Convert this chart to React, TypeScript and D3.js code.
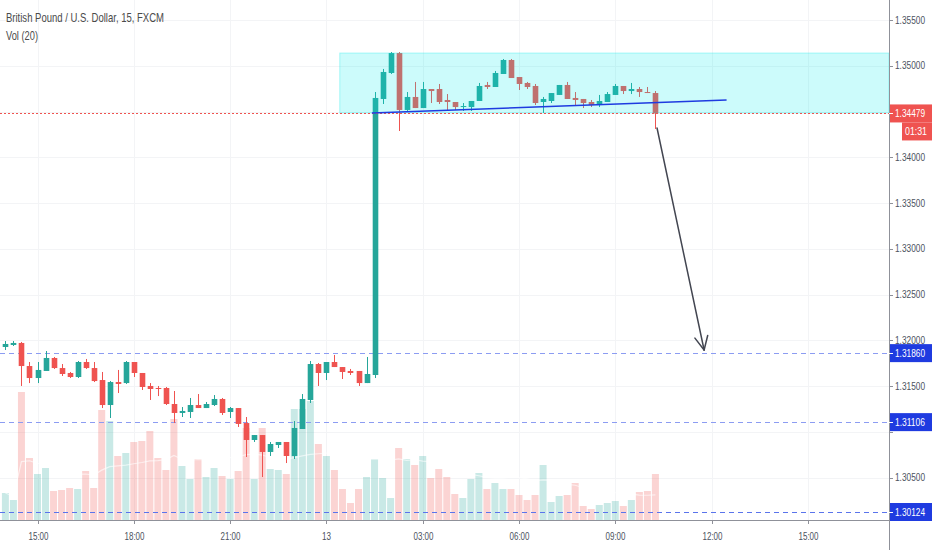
import React from "react";
import * as d3 from "d3";

const W = 932;
const H = 550;
const PLOT_R = 889;
const PLOT_B = 520;

const START = Date.UTC(2019, 11, 12, 14, 0);
const STEP = 15 * 60 * 1000;

const opens = [1.31927,1.31949,1.31971,1.31719,1.31588,1.31665,1.31807,1.31697,1.31643,1.31599,
1.31763,1.31697,1.31566,1.31293,1.31544,1.31533,1.31763,1.31643,1.31501,1.31479,
1.31479,1.31304,1.31206,1.31217,1.31293,1.31260,1.31293,1.31359,1.31217,1.31260,
1.31096,1.30911,1.30965,1.30780,1.30856,1.30889,1.30736,1.31031,1.31348,1.31741,
1.31643,1.31763,1.31708,1.31665,1.31665,1.31533,1.31621,1.34637,1.34921,1.35139,
1.34517,1.34659,1.34538,1.34746,1.34746,1.34626,1.34604,1.34549,1.34549,1.34615,
1.34790,1.34768,1.34910,1.35063,1.34877,1.34812,1.34779,1.34604,1.34615,1.34681,
1.34790,1.34648,1.34637,1.34604,1.34571,1.34604,1.34681,1.34779,1.34724,1.34746,
1.34713,1.34702];

const highs = [1.31992,1.31992,1.31982,1.31763,1.31763,1.31883,1.31818,1.31741,1.31654,1.31774,
1.31796,1.31763,1.31654,1.31555,1.31676,1.31774,1.31763,1.31643,1.31533,1.31501,
1.31490,1.31446,1.31271,1.31370,1.31413,1.31326,1.31402,1.31370,1.31271,1.31260,
1.31162,1.30965,1.30965,1.30889,1.30889,1.30889,1.31118,1.31413,1.31774,1.31752,
1.31763,1.31840,1.31708,1.31687,1.31665,1.31818,1.34713,1.34965,1.35150,1.35150,
1.34713,1.34823,1.34823,1.34746,1.34801,1.34691,1.34604,1.34593,1.34615,1.34812,
1.34823,1.34943,1.35074,1.35074,1.34877,1.34823,1.34801,1.34659,1.34702,1.34790,
1.34823,1.34713,1.34637,1.34626,1.34681,1.34713,1.34801,1.34779,1.34812,1.34768,
1.34768,1.34724];

const lows = [1.31894,1.31938,1.31501,1.31533,1.31533,1.31665,1.31687,1.31610,1.31588,1.31588,
1.31687,1.31544,1.31260,1.31151,1.31424,1.31523,1.31599,1.31457,1.31348,1.31391,
1.31293,1.31096,1.31162,1.31151,1.31260,1.31260,1.31282,1.31184,1.31151,1.31053,
1.30725,1.30889,1.30506,1.30736,1.30823,1.30659,1.30703,1.31031,1.31315,1.31501,
1.31566,1.31708,1.31577,1.31621,1.31501,1.31533,1.31588,1.34582,1.34910,1.34287,
1.34506,1.34538,1.34538,1.34593,1.34582,1.34506,1.34517,1.34506,1.34506,1.34615,
1.34746,1.34768,1.34910,1.34866,1.34735,1.34746,1.34571,1.34484,1.34593,1.34681,
1.34637,1.34560,1.34538,1.34549,1.34549,1.34604,1.34681,1.34691,1.34691,1.34659,
1.34702,1.34309];

const closes = [1.31960,1.31971,1.31719,1.31588,1.31676,1.31807,1.31697,1.31632,1.31599,1.31763,
1.31697,1.31555,1.31293,1.31544,1.31523,1.31763,1.31643,1.31490,1.31468,1.31468,
1.31304,1.31206,1.31228,1.31293,1.31260,1.31304,1.31359,1.31206,1.31260,1.31086,
1.30911,1.30965,1.30780,1.30867,1.30889,1.30736,1.31042,1.31359,1.31741,1.31643,
1.31763,1.31708,1.31654,1.31643,1.31533,1.31632,1.34648,1.34932,1.35139,1.34517,
1.34659,1.34538,1.34746,1.34724,1.34604,1.34604,1.34549,1.34560,1.34615,1.34779,
1.34768,1.34921,1.35063,1.34866,1.34801,1.34768,1.34593,1.34637,1.34702,1.34790,
1.34637,1.34626,1.34593,1.34571,1.34615,1.34691,1.34779,1.34724,1.34746,1.34713,
1.34702,1.34479];

const volumes = [675,500,3200,1550,1150,1300,725,750,800,775,
1225,800,2750,2475,1600,1675,1950,1975,2225,1550,
1250,2525,1350,1025,1525,1075,1300,1100,1025,1225,
2300,1025,2300,1275,1250,1150,2775,2775,2975,1900,
1600,1250,775,425,775,1075,1525,1050,550,1800,
1525,1375,1600,1050,1275,1075,650,550,1025,1175,
775,925,775,775,625,500,625,1375,450,600,
625,925,350,275,375,425,475,350,500,700,
725,1150];

const xTickTimes = [
  Date.UTC(2019, 11, 12, 15), Date.UTC(2019, 11, 12, 18), Date.UTC(2019, 11, 12, 21),
  Date.UTC(2019, 11, 13, 0), Date.UTC(2019, 11, 13, 3), Date.UTC(2019, 11, 13, 6),
  Date.UTC(2019, 11, 13, 9), Date.UTC(2019, 11, 13, 12), Date.UTC(2019, 11, 13, 15),
];
const xTickLabels = ["15:00", "18:00", "21:00", "13", "03:00", "06:00", "09:00", "12:00", "15:00"];

const priceTicks = [1.355, 1.35, 1.345, 1.34, 1.335, 1.33, 1.325, 1.32, 1.315, 1.31, 1.305];
const levels = [1.3186, 1.31106, 1.30124];
const lastPrice = 1.34479;
const countdown = "01:31";

const boxStart = Date.UTC(2019, 11, 13, 0, 25);
const boxTop = 1.35139;
const boxBottom = 1.34484;

const trendTimes = [Date.UTC(2019, 11, 13, 1, 25), Date.UTC(2019, 11, 13, 12, 28)];
const trendPrices = [1.34484, 1.34626];

const arrowTimes = [Date.UTC(2019, 11, 13, 10, 18), Date.UTC(2019, 11, 13, 11, 46)];
const arrowPrices = [1.3432, 1.31894];

const title = "British Pound / U.S. Dollar, 15, FXCM";
const volTitle = "Vol (20)";

const FONT = "'Liberation Sans', Arial, sans-serif";

export default function App() {
  const x = d3.scaleUtc()
    .domain([new Date(START), new Date(Date.UTC(2019, 11, 13, 15))])
    .range([5.4, 807.9]);
  const y = d3.scaleLinear().domain([1.30124, 1.355]).range([512, 20]);
  const yv = d3.scaleLinear().domain([0, 4000]).range([PLOT_B, PLOT_B - 160]);

  const candles = opens.map((o, i) => ({
    t: START + i * STEP,
    o, h: highs[i], l: lows[i], c: closes[i], v: volumes[i],
  }));

  const ma = candles.map((_, i) => {
    const s = Math.max(0, i - 19);
    return d3.mean(volumes.slice(s, i + 1)) as number;
  });
  const maLine = d3.line<number>()
    .x((_, i) => x(new Date(candles[i].t)))
    .y((d) => yv(d));

  const up = "#26a69a";
  const down = "#ef5350";
  const bodyW = 5.6;
  const volW = 7;

  const ax0 = x(new Date(arrowTimes[0]));
  const ay0 = y(arrowPrices[0]);
  const ax1 = x(new Date(arrowTimes[1]));
  const ay1 = y(arrowPrices[1]);
  const ang = Math.atan2(ay1 - ay0, ax1 - ax0);
  const headLen = 15;
  const headA = 0.45;
  const h1 = [ax1 - headLen * Math.cos(ang - headA), ay1 - headLen * Math.sin(ang - headA)];
  const h2 = [ax1 - headLen * Math.cos(ang + headA), ay1 - headLen * Math.sin(ang + headA)];

  const fmt = d3.format(".5f");
  const labelled = [...levels, lastPrice];
  const visibleTicks = priceTicks.filter((p) => labelled.every((q) => Math.abs(y(p) - y(q)) > 11));

  return (
    <svg width={W} height={H} style={{ position: "absolute", left: 0, top: 0, background: "#fff" }}
      fontFamily={FONT}>
      <defs>
        <clipPath id="plot"><rect x={0} y={0} width={PLOT_R} height={PLOT_B} /></clipPath>
      </defs>
      <rect x={0} y={0} width={W} height={H} fill="#fff" />
      {/* grid */}
      <g stroke="#f3f4f6" strokeWidth={1}>
        {xTickTimes.map((t, i) => (
          <line key={"gx" + i} x1={Math.round(x(new Date(t))) + 0.5} x2={Math.round(x(new Date(t))) + 0.5} y1={0} y2={PLOT_B} />
        ))}
        {priceTicks.map((p, i) => (
          <line key={"gy" + i} x1={0} x2={PLOT_R} y1={Math.round(y(p)) + 0.5} y2={Math.round(y(p)) + 0.5} />
        ))}
      </g>
      <g clipPath="url(#plot)">
        {/* volume */}
        {candles.map((d, i) => (
          <rect key={"v" + i} x={x(new Date(d.t)) - volW / 2} y={yv(d.v)} width={volW} height={PLOT_B - yv(d.v)}
            fill={d.c >= d.o ? "rgba(38,166,154,0.25)" : "rgba(239,83,80,0.25)"} />
        ))}
        <path d={maLine(ma) || ""} fill="none" stroke="rgba(255,255,255,0.6)" strokeWidth={1.2} />
        {/* horizontal levels */}
        {levels.map((p, i) => (
          <line key={"lv" + i} x1={0} x2={PLOT_R} y1={Math.round(y(p)) + 0.5} y2={Math.round(y(p)) + 0.5}
            stroke={i === 2 ? "#5a74ec" : "#8c9cf2"} strokeWidth={1.2} strokeDasharray="5,4" />
        ))}
        {/* candles */}
        {candles.map((d, i) => {
          const cx = x(new Date(d.t));
          const col = d.c >= d.o ? up : down;
          const top = y(Math.max(d.o, d.c));
          const bot = y(Math.min(d.o, d.c));
          return (
            <g key={"c" + i}>
              <line x1={Math.round(cx) + 0.5} x2={Math.round(cx) + 0.5} y1={y(d.h)} y2={y(d.l)} stroke={col} strokeWidth={1} />
              <rect x={Math.round(cx) + 0.5 - bodyW / 2} y={top} width={bodyW} height={Math.max(1, bot - top)} fill={col} />
            </g>
          );
        })}
        {/* box */}
        <rect x={x(new Date(boxStart))} y={y(boxTop)} width={PLOT_R - x(new Date(boxStart))}
          height={y(boxBottom) - y(boxTop)} fill="rgba(0,235,235,0.2)" stroke="rgba(0,235,235,0.3)" strokeWidth={1} />
        {/* last price dotted line */}
        <line x1={0} x2={PLOT_R} y1={Math.round(y(lastPrice)) + 0.5} y2={Math.round(y(lastPrice)) + 0.5}
          stroke={down} strokeWidth={1} strokeDasharray="2,2" shapeRendering="crispEdges" />
        {/* trend line */}
        <line x1={x(new Date(trendTimes[0]))} y1={y(trendPrices[0])} x2={x(new Date(trendTimes[1]))} y2={y(trendPrices[1])}
          stroke="#1f3be0" strokeWidth={1.5} />
        {/* arrow */}
        <g stroke="#434651" strokeWidth={1.5} strokeLinecap="round">
          <line x1={ax0} y1={ay0} x2={ax1} y2={ay1} />
          <line x1={ax1} y1={ay1} x2={h1[0]} y2={h1[1]} />
          <line x1={ax1} y1={ay1} x2={h2[0]} y2={h2[1]} />
        </g>
      </g>
      {/* axes */}
      <line x1={0} x2={PLOT_R} y1={PLOT_B + 0.5} y2={PLOT_B + 0.5} stroke="#8f9199" strokeWidth={1} />
      <line x1={PLOT_R + 0.5} x2={PLOT_R + 0.5} y1={0} y2={H} stroke="#8f9199" strokeWidth={1} />
      {xTickTimes.map((t, i) => {
        const tx = Math.round(x(new Date(t))) + 0.5;
        const lab = xTickLabels[i];
        return (
          <g key={"xt" + i}>
            <line x1={tx} x2={tx} y1={PLOT_B} y2={PLOT_B + 4} stroke="#8f9199" />
            <text x={tx} y={540} textAnchor="middle" fontSize={11} fill="#4c525e"
              textLength={lab.length === 2 ? 9 : 20} lengthAdjust="spacingAndGlyphs">{lab}</text>
          </g>
        );
      })}
      {priceTicks.map((p, i) => (
        <line key={"ytk" + i} x1={PLOT_R} x2={PLOT_R + 4} y1={Math.round(y(p)) + 0.5} y2={Math.round(y(p)) + 0.5} stroke="#8f9199" />
      ))}
      {visibleTicks.map((p, i) => (
        <text key={"yt" + i} x={895} y={y(p) + 3.5} fontSize={10} fill="#4c525e" textLength={30} lengthAdjust="spacingAndGlyphs">{fmt(p)}</text>
      ))}
      {/* level labels */}
      {levels.map((p, i) => (
        <g key={"ll" + i}>
          <rect x={PLOT_R + 1} y={y(p) - 9} width={W - PLOT_R - 1} height={18} fill="#1f3be0" />
          <line x1={PLOT_R} x2={PLOT_R + 4} y1={Math.round(y(p)) + 0.5} y2={Math.round(y(p)) + 0.5} stroke="#fff" />
          <text x={895} y={y(p) + 3.5} fontSize={10} fill="#fff" textLength={30} lengthAdjust="spacingAndGlyphs">{fmt(p)}</text>
        </g>
      ))}
      {/* last price label */}
      <rect x={PLOT_R + 1} y={y(lastPrice) - 9} width={W - PLOT_R - 1} height={18} fill={down} />
      <line x1={PLOT_R} x2={PLOT_R + 4} y1={Math.round(y(lastPrice)) + 0.5} y2={Math.round(y(lastPrice)) + 0.5} stroke="#fff" />
      <text x={895} y={y(lastPrice) + 3.5} fontSize={10} fill="#fff" textLength={30} lengthAdjust="spacingAndGlyphs">{fmt(lastPrice)}</text>
      <rect x={902} y={y(lastPrice) + 9} width={W - 902} height={18} fill={down} />
      <text x={905} y={y(lastPrice) + 21.5} fontSize={10} fill="#fff" textLength={22} lengthAdjust="spacingAndGlyphs">{countdown}</text>
      {/* titles */}
      <text x={6} y={22} fontSize={13} fill="#4a4a4a" textLength={158} lengthAdjust="spacingAndGlyphs">{title}</text>
      <text x={6} y={40} fontSize={13} fill="#4a4a4a" textLength={32} lengthAdjust="spacingAndGlyphs">{volTitle}</text>
    </svg>
  );
}
